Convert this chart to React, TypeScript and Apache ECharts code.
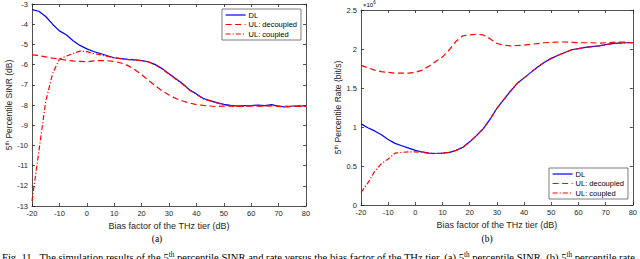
import React, { useEffect, useRef } from "react";
import * as echarts from "echarts";

const bias = [-20, -17.5, -15, -12.5, -10, -7.5, -5, -2.5, 0, 2.5, 5, 7.5, 10, 12.5, 15, 17.5, 20, 22.5, 25, 27.5, 30, 32.5, 35, 37.5, 40, 42.5, 45, 47.5, 50, 52.5, 55, 57.5, 60, 62.5, 65, 67.5, 70, 72.5, 75, 77.5, 80];

// (a) 5th percentile SINR (dB)
const sinrDL = [-3.28, -3.36, -3.62, -4.0, -4.33, -4.52, -4.82, -5.05, -5.22, -5.35, -5.45, -5.56, -5.66, -5.7, -5.74, -5.77, -5.8, -5.86, -6.0, -6.2, -6.45, -6.7, -6.95, -7.25, -7.45, -7.68, -7.78, -7.88, -7.97, -8.02, -8.05, -8.03, -8.03, -8.0, -8.03, -7.98, -8.06, -8.1, -8.05, -8.05, -8.05];
const sinrDecoupled = [-5.52, -5.55, -5.62, -5.68, -5.73, -5.78, -5.82, -5.84, -5.86, -5.82, -5.8, -5.81, -5.84, -5.92, -6.05, -6.25, -6.5, -6.78, -7.05, -7.3, -7.5, -7.68, -7.8, -7.9, -7.98, -8.02, -8.05, -8.08, -8.05, -8.06, -8.07, -8.05, -8.04, -8.06, -8.05, -8.05, -8.07, -8.05, -8.08, -8.06, -8.05];
const sinrCoupled = [-12.75, -10.3, -7.83, -6.45, -5.72, -5.58, -5.45, -5.33, -5.36, -5.45, -5.52, -5.6, -5.67, -5.71, -5.75, -5.77, -5.81, -5.87, -6.02, -6.22, -6.47, -6.72, -6.97, -7.27, -7.47, -7.7, -7.8, -7.9, -7.99, -8.04, -8.06, -8.05, -8.04, -8.03, -8.05, -8.02, -8.07, -8.1, -8.07, -8.06, -8.07];

// (b) 5th percentile rate (x 10^6 bit/s)
const rateDL = [1.04, 0.99, 0.95, 0.9, 0.84, 0.79, 0.76, 0.73, 0.7, 0.68, 0.665, 0.66, 0.665, 0.675, 0.7, 0.74, 0.81, 0.89, 0.98, 1.1, 1.24, 1.35, 1.46, 1.56, 1.63, 1.7, 1.77, 1.83, 1.88, 1.92, 1.955, 1.99, 2.005, 2.02, 2.03, 2.04, 2.055, 2.07, 2.075, 2.08, 2.08];
const rateDecoupled = [1.79, 1.76, 1.73, 1.71, 1.7, 1.69, 1.69, 1.69, 1.7, 1.73, 1.78, 1.84, 1.9, 1.99, 2.1, 2.17, 2.18, 2.19, 2.18, 2.13, 2.07, 2.05, 2.04, 2.045, 2.05, 2.06, 2.07, 2.08, 2.085, 2.09, 2.09, 2.085, 2.08, 2.08, 2.08, 2.075, 2.08, 2.085, 2.09, 2.09, 2.08];
const rateCoupled = [0.16, 0.28, 0.43, 0.53, 0.59, 0.665, 0.675, 0.68, 0.68, 0.675, 0.665, 0.66, 0.665, 0.675, 0.7, 0.74, 0.81, 0.89, 0.98, 1.1, 1.24, 1.35, 1.46, 1.56, 1.63, 1.7, 1.77, 1.83, 1.88, 1.92, 1.955, 1.99, 2.005, 2.02, 2.03, 2.04, 2.055, 2.07, 2.075, 2.08, 2.08];

const seriesNames = ["DL", "UL: decoupled", "UL: coupled"];
const xTicks = { min: -20, max: 80, interval: 10 };
const sinrTicks = { min: -13, max: -3, interval: 1 };
const rateTicks = { min: 0, max: 2.5, interval: 0.5 };

const AX = "#262626";
const FONT = "Liberation Sans";

function pairs(vals: number[]) {
  return bias.map((b, i) => [b, vals[i]]);
}

function xAxisDef(grid: number, top: boolean, name?: string) {
  return {
    type: "value",
    gridIndex: grid,
    position: top ? "top" : "bottom",
    min: xTicks.min,
    max: xTicks.max,
    interval: xTicks.interval,
    name: name,
    nameLocation: "middle",
    nameGap: 14,
    nameTextStyle: { fontFamily: FONT, fontSize: 9, color: AX },
    axisLine: { show: true, onZero: false, lineStyle: { color: AX, width: 0.8 } },
    axisTick: { show: true, inside: true, length: 3, lineStyle: { color: AX, width: 0.8 } },
    axisLabel: { show: !top, fontFamily: FONT, fontSize: 7.5, color: AX, margin: 3 },
    splitLine: { show: false },
  };
}

function yAxisDef(grid: number, right: boolean, t: { min: number; max: number; interval: number }, name?: string, gap?: number) {
  return {
    type: "value",
    gridIndex: grid,
    position: right ? "right" : "left",
    min: t.min,
    max: t.max,
    interval: t.interval,
    name: name,
    nameLocation: "middle",
    nameGap: gap,
    nameRotate: 90,
    nameTextStyle: {
      fontFamily: FONT,
      fontSize: 8.5,
      color: AX,
      rich: {
        n: { fontFamily: FONT, fontSize: 8.5, color: AX },
        s: { fontFamily: FONT, fontSize: 5.5, color: AX, verticalAlign: "top", lineHeight: 10 },
      },
    },
    axisLine: { show: true, onZero: false, lineStyle: { color: AX, width: 0.8 } },
    axisTick: { show: true, inside: true, length: 3, lineStyle: { color: AX, width: 0.8 } },
    axisLabel: { show: !right, fontFamily: FONT, fontSize: 7.5, color: AX, margin: 4 },
    splitLine: { show: false },
  };
}

function makeSeries(xi: number, yi: number, vals: number[][]) {
  const styles = [
    { color: "#0000ff", type: "solid" },
    { color: "#ff0000", type: [6, 3.5] },
    { color: "#ff0000", type: [5, 2, 1.2, 2] },
  ];
  return vals.map((v, k) => ({
    name: seriesNames[k],
    type: "line",
    xAxisIndex: xi,
    yAxisIndex: yi,
    data: pairs(v),
    symbol: "none",
    showSymbol: false,
    smooth: false,
    itemStyle: { color: styles[k].color },
    lineStyle: { color: styles[k].color, width: 1.2, type: styles[k].type },
    z: 2 + k,
  }));
}

function legendDef(left: number, top: number) {
  return {
    orient: "vertical",
    left,
    top,
    data: seriesNames,
    backgroundColor: "#ffffff",
    borderColor: "#262626",
    borderWidth: 0.6,
    borderRadius: 0,
    padding: [2, 4, 2, 3],
    itemWidth: 20,
    itemHeight: 8,
    itemGap: 1.5,
    selectedMode: false,
    itemStyle: { opacity: 0, borderWidth: 0 },
    lineStyle: { width: 1.2 },
    textStyle: { fontFamily: FONT, fontSize: 7.5, color: "#000", padding: [0, 0, 0, -2] },
  };
}

export default function App() {
  const ref = useRef<HTMLDivElement>(null);
  useEffect(() => {
    if (!ref.current) return;
    const chart = echarts.init(ref.current, undefined, { renderer: "svg" });
    const capRich = {
      c: { fontFamily: "Liberation Serif", fontSize: 10.6, color: "#000" },
      s: { fontFamily: "Liberation Serif", fontSize: 7.2, color: "#000", verticalAlign: "top", lineHeight: 13 },
    };
    chart.setOption({
      animation: false,
      backgroundColor: "#ffffff",
      grid: [
        { left: 32, top: 3, width: 274, height: 203, containLabel: false },
        { left: 361, top: 10, width: 274, height: 195, containLabel: false },
      ],
      xAxis: [
        xAxisDef(0, false, "Bias factor of the THz tier (dB)"),
        xAxisDef(0, true),
        xAxisDef(1, false, "Bias factor of the THz tier (dB)"),
        xAxisDef(1, true),
      ],
      yAxis: [
        yAxisDef(0, false, sinrTicks, "{n|5}{s|th}{n| Percentile SINR (dB)}", 14),
        yAxisDef(0, true, sinrTicks),
        yAxisDef(1, false, rateTicks, "{n|5}{s|th}{n| Percentile Rate (bit/s)}", 16),
        yAxisDef(1, true, rateTicks),
      ],
      legend: [legendDef(222, 9), legendDef(549, 168)],
      series: [
        ...makeSeries(0, 0, [sinrDL, sinrDecoupled, sinrCoupled]),
        ...makeSeries(2, 2, [rateDL, rateDecoupled, rateCoupled]),
      ],
      graphic: [
        {
          type: "text",
          x: 363,
          y: 0,
          style: {
            text: "{a|×10}{s|6}",
            rich: {
              a: { fontFamily: FONT, fontSize: 6, color: AX, lineHeight: 9 },
              s: { fontFamily: FONT, fontSize: 4.5, color: AX, verticalAlign: "top", lineHeight: 9 },
            },
          },
        },
        {
          type: "text",
          x: 157,
          y: 239,
          style: { text: "(a)", fontFamily: "Liberation Serif", fontSize: 9.5, fill: "#000", align: "center", verticalAlign: "middle" },
        },
        {
          type: "text",
          x: 487,
          y: 239,
          style: { text: "(b)", fontFamily: "Liberation Serif", fontSize: 9.5, fill: "#000", align: "center", verticalAlign: "middle" },
        },
        {
          type: "text",
          x: 2,
          y: 251,
          style: {
            text: "{c|Fig. 11.  The simulation results of the }{c|5}{s|th}{c| percentile SINR and rate versus the bias factor of the THz tier. (a) }{c|5}{s|th}{c| percentile SINR. (b) }{c|5}{s|th}{c| percentile rate.}",
            rich: capRich,
          },
        },
      ],
    });
    return () => chart.dispose();
  }, []);
  return <div ref={ref} style={{ position: "fixed", left: 0, top: 0, width: 640, height: 259 }} />;
}
